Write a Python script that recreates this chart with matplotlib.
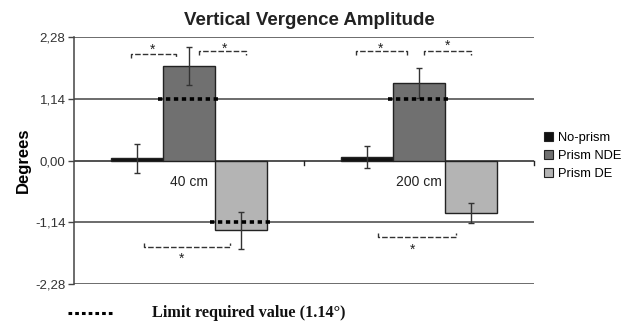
import matplotlib
matplotlib.use("Agg")
import matplotlib.pyplot as plt
from matplotlib.lines import Line2D
from matplotlib.patches import Patch
import numpy as np

plt.rcParams["font.family"] = ["Liberation Sans", "DejaVu Sans"]

# Vertical vergence amplitude (degrees) per viewing distance
categories = ["40 cm", "200 cm"]
series_names = ["No-prism", "Prism NDE", "Prism DE"]
no_prism = [0.04, 0.06]
no_prism_err = [0.27, 0.20]
prism_nde = [1.74, 1.43]
prism_nde_err = [0.35, 0.28]
prism_de = [-1.29, -0.97]
prism_de_err = [0.34, 0.19]
limit_value = 1.14
ytick_values = [-2.28, -1.14, 0.0, 1.14, 2.28]
ytick_labels = ["-2,28", "-1,14", "0,00", "1,14", "2,28"]

values = [no_prism, prism_nde, prism_de]
errors = [no_prism_err, prism_nde_err, prism_de_err]
colors = ["#111111", "#707070", "#b4b4b4"]

fig = plt.figure(figsize=(6.26, 3.24), dpi=100)
ax = fig.add_axes([0.118, 0.123, 0.735, 0.763])

x = np.arange(len(categories))
width = 0.225
offsets = [-width, 0.0, width]

for vals, errs, col, off, name in zip(values, errors, colors, offsets, series_names):
    ax.bar(x + off, vals, width, color=col, edgecolor="#222222", linewidth=1.0,
           zorder=3, label=name)
    ax.errorbar(x + off, vals, yerr=errs, fmt="none", ecolor="#333333",
                elinewidth=1.0, capsize=2.5, capthick=1.0, zorder=4)

# dotted limit markers on bars that exceed the required value
for vals, off in zip(values, offsets):
    for xi, v in zip(x, vals):
        if abs(v) >= limit_value:
            yy = np.sign(v) * limit_value
            ax.plot([xi + off - width / 2 - 0.02, xi + off + width / 2 + 0.02], [yy, yy],
                    color="black", linestyle=(0, (1.2, 1.0)), linewidth=2.6, zorder=5)

# horizontal reference lines
for yv in [-2.28, -1.14, 1.14, 2.28]:
    ax.axhline(yv, color="#444444", linewidth=1.1, zorder=1)
ax.axhline(0, color="#222222", linewidth=1.1, zorder=2)
for xb in [0.5, 1.5]:
    ax.plot([xb, xb], [0, -0.08], color="#222222", linewidth=1.0, zorder=2, clip_on=False)

# category labels just below the zero line
for xi, lab in zip(x, categories):
    ax.text(xi, -0.40, lab, ha="center", va="center", fontsize=10, color="#222222", zorder=6)

# significance brackets (group, x0, x1, y, tick direction, star x, star y)
brackets = [
    (0, -0.252, -0.057, 1.97, -1, -0.157, 2.04),
    (0, 0.043, 0.248, 2.02, -1, 0.157, 2.07),
    (1, -0.274, -0.052, 2.02, -1, -0.165, 2.07),
    (1, 0.022, 0.226, 2.02, -1, 0.122, 2.12),
    (0, -0.196, 0.178, -1.60, 1, -0.03, -1.82),
    (1, -0.178, 0.161, -1.41, 1, -0.026, -1.64),
]
for g, x0, x1, yb, d, sx, sy in brackets:
    ax.plot([g + x0, g + x0, g + x1, g + x1], [yb + d * 0.07, yb, yb, yb + d * 0.07],
            color="#333333", linewidth=1.0, linestyle=(0, (4, 1.5)), zorder=4)
    ax.text(g + sx, sy, "*", ha="center", va="center", fontsize=10, color="#222222")

ax.set_xlim(-0.5, 1.5)
ax.set_ylim(-2.28, 2.28)
ax.set_yticks(ytick_values)
ax.set_yticklabels(ytick_labels, fontsize=9.5, color="#333333")
ax.set_xticks([])
ax.tick_params(axis="y", length=4, width=1.0, color="#444444", pad=2)
for s in ["top", "right", "bottom"]:
    ax.spines[s].set_visible(False)
ax.spines["left"].set_color("#444444")
ax.spines["left"].set_linewidth(1.1)

ax.set_ylabel("Degrees", fontsize=12, fontweight="bold", labelpad=3)
fig.text(0.495, 0.938, "Vertical Vergence Amplitude", ha="center", va="center",
         fontsize=13.5, fontweight="bold", color="#222222")

handles = [Patch(facecolor=c, edgecolor="#222222", linewidth=0.8) for c in colors]
fig.legend(handles, series_names, loc="center left", bbox_to_anchor=(0.861, 0.518),
           frameon=False, fontsize=9.3, handlelength=0.7, handleheight=0.7,
           handletextpad=0.35, labelspacing=0.45, borderaxespad=0)

# legend line for the required limit
fig.add_artist(Line2D([0.109, 0.184], [0.034, 0.034], transform=fig.transFigure,
                      color="black", linestyle=(0, (1.2, 1.0)), linewidth=2.2))
fig.text(0.243, 0.034, "Limit required value (1.14°)", ha="left", va="center",
         fontsize=11.7, fontweight="bold", family=["Liberation Serif", "DejaVu Serif"],
         color="#111111")

fig.savefig("out.png", dpi=100)
